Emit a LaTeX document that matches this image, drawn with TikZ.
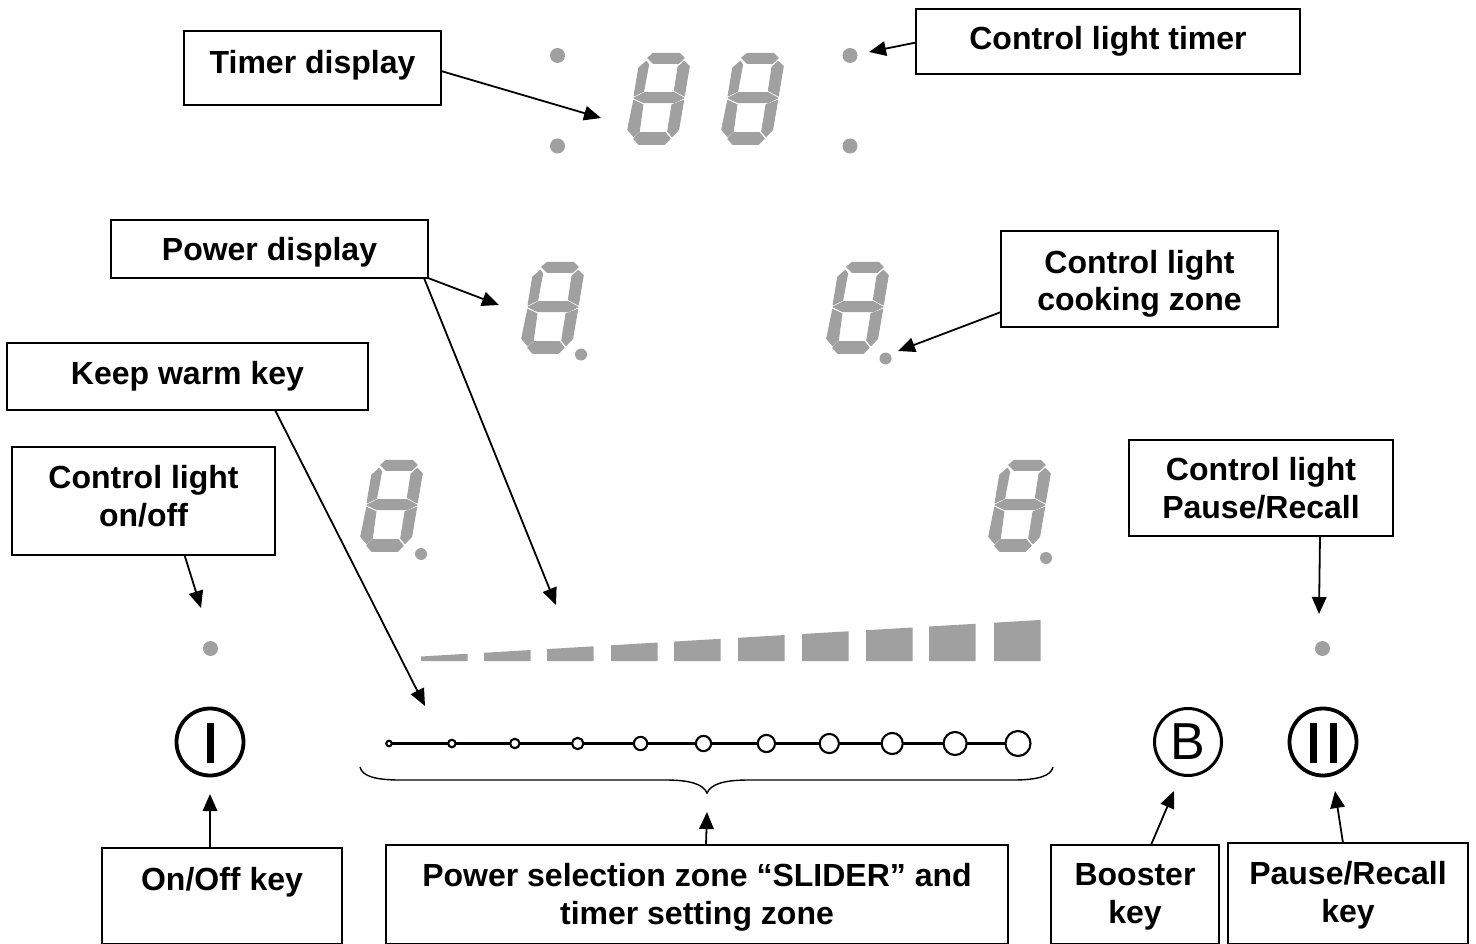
\documentclass[tikz,border=0pt]{standalone}
\usepackage{fontspec}
\setmainfont{Liberation Sans}
\usetikzlibrary{arrows.meta}
\definecolor{seg}{HTML}{A0A0A0}
\tikzset{
  keybox/.style={draw=black,line width=1.3pt,fill=white,inner sep=0pt,outer sep=0pt,anchor=north west,font=\fontsize{32}{38}\selectfont\bfseries},
  callout/.style={draw=black,line width=1.8pt,-{Triangle[length=17pt,width=14.5pt]}},
  segm/.style={fill=seg,draw=seg,line width=0.9pt,line join=round},
  lamp/.style={circle,fill=seg,draw=none,inner sep=0pt,minimum size=#1},
  ringkey/.style={circle,draw=black,line width=#1,inner sep=0pt,minimum size=67pt},
  sliderdot/.style={circle,draw=black,fill=white,line width=2.1pt,inner sep=0pt,minimum size=#1}
}
% \kbox{name}{x1}{y1}{x2}{y2}{first baseline}{text}
\newcommand\kbox[7]{%
  \pgfmathsetlengthmacro\kw{#4-#2}\pgfmathsetlengthmacro\kh{#5-#3}\pgfmathsetlengthmacro\kt{#6-#3-24}%
  \node[keybox] (#1) at (#2,#3) {\parbox[c][\kh][t]{\kw}{\centering\vspace*{\kt}\rule{0pt}{24pt}#7}};}
\newcommand\digitseg[2]{%
  \begin{scope}[shift={(#1,#2)},x=0.3333pt,y=-0.3333pt]
    \filldraw[segm] (62,15)--(78,1)--(158,1)--(172,15)--(155,31)--(78,31)--cycle;
    \filldraw[segm] (58,25)--(35,45)--(21,129)--(50,115)--(65,35)--cycle;
    \filldraw[segm] (172,25)--(187,40)--(172,129)--(142,113)--(153,42)--cycle;
    \filldraw[segm] (21,135)--(52,119)--(142,119)--(171,135)--(142,149)--(50,149)--cycle;
    \filldraw[segm] (20,142)--(48,155)--(37,235)--(20,251)--(2,230)--cycle;
    \filldraw[segm] (170,142)--(155,230)--(135,251)--(122,235)--(135,155)--cycle;
    \filldraw[segm] (20,257)--(38,239)--(115,239)--(130,257)--(113,274)--(35,274)--cycle;
  \end{scope}}
\begin{document}
\begin{tikzpicture}[x=1pt,y=-1pt]
\useasboundingbox (0,0) rectangle (1476,944);
% seven segment digits
\digitseg{627}{53}\digitseg{721}{53}
\digitseg{521}{262}\digitseg{826}{262}
\digitseg{360}{460}\digitseg{988}{460}
% lamps
\foreach \n/\x/\y/\s in {a/557.5/55.5/15,b/557.5/146/15,c/850/55.5/15,d/850/146/15,e/581/354.5/12,f/885.5/358.5/12,g/421/554/12,h/1046/558/12,i/210.5/648.5/15,j/1322.5/648.5/15}
  \node[lamp=\s pt] (lamp\n) at (\x,\y) {};
% level bars
\foreach \x in {421,484,547,611,674,738,802,866,929,994}
  \fill[seg] (\x,661) -- (\x,{656.5-0.059*(\x-421)}) -- ({\x+46.5},{656.5-0.059*(\x+46.5-421)}) -- ({\x+46.5},661) -- cycle;
% slider
\coordinate (sl0) at (389,743.5);
\coordinate (sl1) at (1018,743.5);
\draw[line width=3pt] (sl0) -- (sl1);
\foreach \i in {0,...,10}
  \node[sliderdot={(5.5+1.95*\i)*1pt}] (dot\i) at ({389+62.9*\i},743.5) {};
% brace
\draw[line width=1.4pt] (360,767) .. controls (362,776) and (375,780) .. (400,780) -- (665,780)
  .. controls (690,780) and (703,784) .. (707,793) .. controls (711,784) and (724,780) .. (749,780)
  -- (1013,780) .. controls (1038,780) and (1051,776) .. (1053,767);
% round keys
\node[ringkey=3.8pt] (onkey) at (210,742) {};
\fill (206.5,723) rectangle (214,763);
\node[ringkey=3pt,font=\fontsize{52}{52}\selectfont] (bkey) at (1188,742) {B};
\node[ringkey=3.8pt] (pkey) at (1323,742) {};
\fill (1310,723) rectangle (1317,763);
\fill (1329.5,723) rectangle (1337,763);
% boxes
\kbox{timer}{184}{31}{441}{105}{74}{Timer display}
\kbox{ctimer}{916}{9}{1300}{74}{50}{Control light timer}
\kbox{power}{111}{220}{428}{278}{261}{Power display}
\kbox{cook}{1001}{231}{1278}{327}{273}{Control light\\cooking zone}
\kbox{warm}{7}{343}{368}{410}{384}{Keep warm key}
\kbox{clon}{12}{447}{275}{555}{488}{Control light\\on/off}
\kbox{cpause}{1129}{440}{1393}{536}{480}{Control light\\Pause/Recall}
\kbox{onoff}{102}{848}{342}{944}{890}{On/Off key}
\kbox{zone}{386}{845}{1008}{944}{886}{Power selection zone “SLIDER” and\\timer setting zone}
\kbox{boost}{1051}{845}{1219}{944}{885}{Booster\\key}
\kbox{pausek}{1228}{843}{1468}{944}{884}{Pause/Recall\\key}
% arrow end points
\coordinate (t1) at (601,118);
\coordinate (t2) at (869,52);
\coordinate (t3) at (499,305);
\coordinate (t4) at (556,605);
\coordinate (t5) at (425,706);
\coordinate (t6) at (898,351);
\coordinate (t7) at (201,608);
\coordinate (t8) at (1319,614);
\coordinate (t9) at (210,794);
\coordinate (t10) at (707,812);
\coordinate (t11) at (1174,791);
\coordinate (t12) at (1335,791);
% connectors
\draw[callout] ([yshift=-3pt]timer.east) -- (t1);
\draw[callout] ([yshift=-1pt]ctimer.west) -- (t2);
\draw[callout] (power.south east) -- (t3);
\draw[callout] ([xshift=-4pt]power.south east) -- (t4);
\draw[callout] ([xshift=-93pt]warm.south east) -- (t5);
\draw[callout] ([yshift=-33pt]cook.west) -- (t6);
\draw[callout] ([xshift=41pt]clon.south) -- (t7);
\draw[callout] ([xshift=59pt]cpause.south) -- (t8);
\draw[callout] ([xshift=-12pt]onoff.north) -- (t9);
\draw[callout] ([xshift=9pt]zone.north) -- (t10);
\draw[callout] ([xshift=16pt]boost.north) -- (t11);
\draw[callout] ([xshift=-5pt]pausek.north) -- (t12);
\end{tikzpicture}
\end{document}
